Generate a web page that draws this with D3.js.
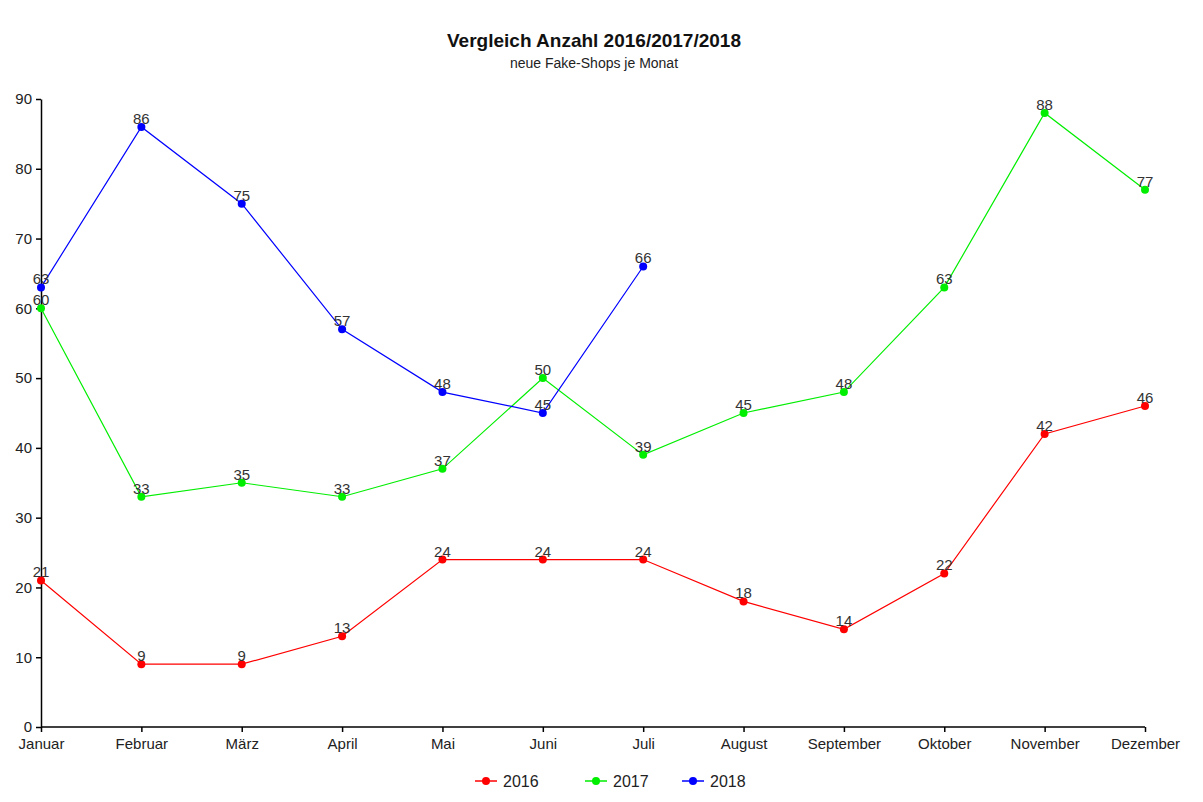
<!DOCTYPE html>
<html><head><meta charset="utf-8">
<script src="https://cdn.jsdelivr.net/npm/d3@7"></script>
<style>body{margin:0;background:#fff}svg{display:block}text{font-family:"Liberation Sans",Arial,sans-serif}</style>
</head><body>
<svg id="c" width="1203" height="802"></svg>
<script>
const months = ["Januar","Februar","März","April","Mai","Juni","Juli","August","September","Oktober","November","Dezember"];
const values2016 = [21,9,9,13,24,24,24,18,14,22,42,46];
const values2017 = [60,33,35,33,37,50,39,45,48,63,88,77];
const values2018 = [63,86,75,57,48,45,66];
const yTicks = [0,10,20,30,40,50,60,70,80,90];
const seriesNames = ["2016","2017","2018"];
const seriesColors = ["#ff0000","#00ee00","#0000ff"];
const series = [values2016, values2017, values2018];

const svg = d3.select("#c");
const x = d3.scalePoint().domain(months).range([41,1145]);
const y = d3.scaleLinear().domain([0,90]).range([727,99]);

svg.append("text").attr("x",594).attr("y",47).attr("text-anchor","middle")
  .attr("font-size",19).attr("font-weight","bold").attr("fill","#111").text("Vergleich Anzahl 2016/2017/2018");
svg.append("text").attr("x",594).attr("y",68).attr("text-anchor","middle")
  .attr("font-size",14).attr("fill","#222").text("neue Fake-Shops je Monat");

const ya = svg.append("g").attr("transform","translate(41,0)")
  .call(d3.axisLeft(y).tickValues(yTicks).tickSize(5).tickSizeOuter(0).tickPadding(4));
ya.selectAll("text").attr("font-size",15).attr("fill","#222").style("font-family","Liberation Sans, Arial, sans-serif");
ya.selectAll("line,path").attr("stroke","#000").attr("stroke-width",1.5);

const xa = svg.append("g").attr("transform","translate(0,727)")
  .call(d3.axisBottom(x).tickSize(5).tickSizeOuter(0).tickPadding(6));
xa.select("path").attr("d","M41,0H1145");
xa.selectAll("text").attr("font-size",15).attr("fill","#222").style("font-family","Liberation Sans, Arial, sans-serif");
xa.selectAll("line,path").attr("stroke","#000").attr("stroke-width",1.5);

const line = d3.line().x((d,i)=>x(months[i])).y(d=>y(d));
series.forEach((vals,si)=>{
  const g = svg.append("g");
  g.append("path").attr("d",line(vals)).attr("fill","none").attr("stroke",seriesColors[si]).attr("stroke-width",1.2);
  g.selectAll("circle").data(vals).join("circle")
    .attr("cx",(d,i)=>x(months[i])).attr("cy",d=>y(d)).attr("r",4).attr("fill",seriesColors[si]);
});
series.forEach((vals,si)=>{
  svg.append("g").selectAll("text").data(vals).join("text")
    .attr("x",(d,i)=>x(months[i])).attr("y",d=>y(d)-3).attr("text-anchor","middle")
    .attr("font-size",15).attr("fill","#333").text(d=>d);
});

const legX = [475,585,682];
seriesNames.forEach((n,i)=>{
  const g = svg.append("g").attr("transform",`translate(${legX[i]},781)`);
  g.append("line").attr("x1",0).attr("x2",22).attr("stroke",seriesColors[i]).attr("stroke-width",1.5);
  g.append("circle").attr("cx",11).attr("r",4).attr("fill",seriesColors[i]);
  g.append("text").attr("x",28).attr("y",6).attr("font-size",16).attr("fill","#222").text(n);
});
</script>
</body></html>
